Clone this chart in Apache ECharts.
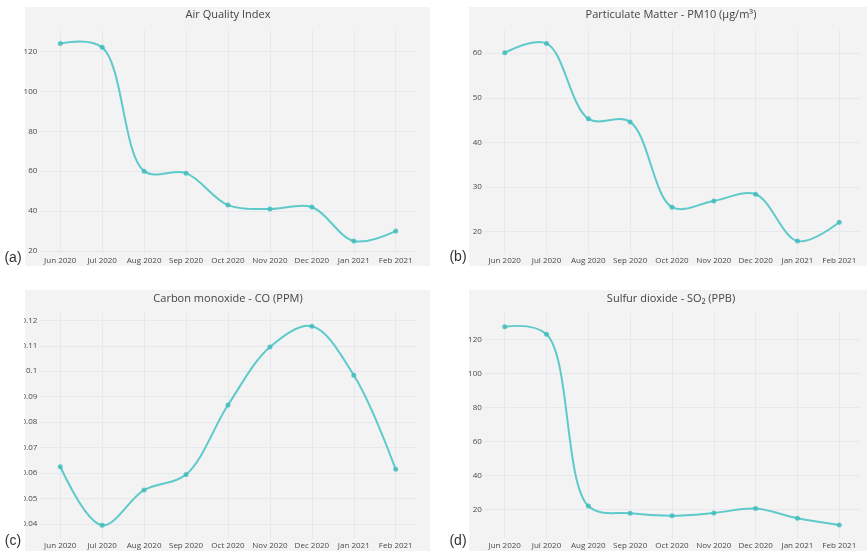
<!DOCTYPE html>
<html>
<head>
<meta charset="utf-8">
<script src="https://cdn.jsdelivr.net/npm/echarts@6/dist/echarts.min.js"></script>
<style>
  html, body { margin: 0; padding: 0; background: #ffffff; }
  #chart { width: 867px; height: 551px; }
</style>
</head>
<body>
<div id="chart"></div>
<script>
// ---- data ----
const months = ['Jun 2020', 'Jul 2020', 'Aug 2020', 'Sep 2020', 'Oct 2020', 'Nov 2020', 'Dec 2020', 'Jan 2021', 'Feb 2021'];
const aqi  = [124, 122, 60, 59, 43, 41, 42, 25, 30];
const pm10 = [60.1, 62.2, 45.3, 44.6, 25.5, 26.9, 28.4, 17.9, 22.1];
const co   = [0.0624, 0.0394, 0.0533, 0.0594, 0.0867, 0.1095, 0.1177, 0.0984, 0.0614];
const so2  = [127.4, 122.9, 21.9, 17.6, 16.2, 17.8, 20.4, 14.7, 10.8];
const titles = ['Air Quality Index', 'Particulate Matter - PM10 (μg/m³)', 'Carbon monoxide - CO (PPM)', 'Sulfur dioxide - SO₂ (PPB)'];
const panelLetters = ['(a)', '(b)', '(c)', '(d)'];

// ---- layout ----
const FONT = '"Open Sans", "DejaVu Sans", sans-serif';
const LINE = '#5ecaca';
const MARK = '#3fbaba';
const BG = '#f3f3f3';
const GRIDC = '#e6e8ed';

const panels = [
  { data: aqi,  grid: { left: 39.3,  top: 30,    width: 377.4, height: 224 },   ymin: 18.5,   ymax: 130.7, split: 5, box: [25, 7, 405, 259],  title: [228, 15],  letter: [13, 258] },
  { data: pm10, grid: { left: 483.8, top: 30,    width: 376.4, height: 224 },   ymin: 15.0,   ymax: 65.2,  split: 5, box: [469, 7, 398, 259], title: [671, 15],  letter: [458, 257] },
  { data: co,   grid: { left: 39.3,  top: 312.7, width: 377.4, height: 225.8 }, ymin: 0.0342, ymax: 0.123, split: 8, box: [25, 290, 405, 261], title: [228, 298.5], letter: [13, 541] },
  { data: so2,  grid: { left: 483.8, top: 312.7, width: 376.4, height: 225.8 }, ymin: 2.8,    ymax: 135.6, split: 6, box: [469, 290, 398, 261], title: [671, 298.5], letter: [458, 541] }
];

// Catmull-Rom style spline (same construction as the original plot's "spline" line shape)
function makeTangent(prev, cur, next, s) {
  const d1x = prev[0] - cur[0], d1y = prev[1] - cur[1];
  const d2x = next[0] - cur[0], d2y = next[1] - cur[1];
  const d1a = Math.pow(d1x * d1x + d1y * d1y, 0.25);
  const d2a = Math.pow(d2x * d2x + d2y * d2y, 0.25);
  const numx = (d2a * d2a * d1x - d1a * d1a * d2x) * s;
  const numy = (d2a * d2a * d1y - d1a * d1a * d2y) * s;
  const den1 = 3 * d2a * (d1a + d2a);
  const den2 = 3 * d1a * (d1a + d2a);
  return [
    [cur[0] + (den1 && numx / den1), cur[1] + (den1 && numy / den1)],
    [cur[0] - (den2 && numx / den2), cur[1] - (den2 && numy / den2)]
  ];
}
function splinePath(pts, s) {
  const P = q => q[0].toFixed(2) + ' ' + q[1].toFixed(2);
  const t = [];
  for (let i = 1; i < pts.length - 1; i++) t.push(makeTangent(pts[i - 1], pts[i], pts[i + 1], s));
  let d = 'M' + P(pts[0]) + ' Q' + P(t[0][0]) + ' ' + P(pts[1]);
  for (let i = 2; i < pts.length - 1; i++) d += ' C' + P(t[i - 2][1]) + ' ' + P(t[i - 1][0]) + ' ' + P(pts[i]);
  d += ' Q' + P(t[pts.length - 3][1]) + ' ' + P(pts[pts.length - 1]);
  return d;
}

const grids = [], xAxes = [], yAxes = [], series = [], graphics = [];
panels.forEach((p, i) => {
  grids.push(Object.assign({ containLabel: false, outerBoundsMode: 'none' }, p.grid));
  xAxes.push({
    type: 'value', gridIndex: i, min: -0.5, max: 8.5, splitNumber: 9,
    axisLine: { show: false }, axisTick: { show: false },
    axisLabel: {
      showMinLabel: false, showMaxLabel: false, margin: 3,
      fontSize: 8, fontFamily: FONT, color: '#4a4a4a',
      formatter: v => months[Math.round(v)] || ''
    },
    splitLine: { show: true, showMinLine: false, showMaxLine: false, lineStyle: { color: GRIDC, width: 1 } }
  });
  yAxes.push({
    type: 'value', gridIndex: i, min: p.ymin, max: p.ymax, splitNumber: p.split,
    axisLine: { show: false }, axisTick: { show: false },
    axisLabel: { showMinLabel: false, showMaxLabel: false, margin: 2, fontSize: 8, fontFamily: FONT, color: '#4a4a4a' },
    splitLine: { show: true, showMinLine: false, showMaxLine: false, lineStyle: { color: GRIDC, width: 1 } }
  });
  const pairs = p.data.map((v, k) => [k, v]);
  series.push({
    type: 'custom', xAxisIndex: i, yAxisIndex: i,
    data: pairs, z: 3, silent: true,
    renderItem: (params, api) => {
      if (params.dataIndex !== 0) return null;
      const pts = pairs.map(d => api.coord(d));
      return {
        type: 'path',
        shape: { pathData: splinePath(pts, 1) },
        style: { fill: 'none', stroke: LINE, lineWidth: 2, lineJoin: 'round', lineCap: 'round' }
      };
    }
  });
  series.push({
    type: 'scatter', xAxisIndex: i, yAxisIndex: i,
    data: pairs, symbol: 'circle', symbolSize: 5,
    itemStyle: { color: MARK }, z: 4
  });
  graphics.push({
    type: 'rect', z: -100, silent: true,
    shape: { x: p.box[0], y: p.box[1], width: p.box[2], height: p.box[3] },
    style: { fill: BG }
  });
  graphics.push({
    type: 'text', z: 200, silent: true, x: p.title[0], y: p.title[1],
    style: { text: titles[i], fontSize: 11, fontFamily: FONT, fill: '#444', align: 'center', verticalAlign: 'middle' }
  });
  graphics.push({
    type: 'text', z: 200, silent: true, x: p.letter[0], y: p.letter[1],
    style: { text: panelLetters[i], fontSize: 14, fontFamily: '"Liberation Sans", Arial, sans-serif', fill: '#333', align: 'center', verticalAlign: 'middle' }
  });
});
// white margin that clips the left of panel (c)'s tick labels, as in the reference
graphics.push({
  type: 'rect', z: 150, silent: true,
  shape: { x: 0, y: 300, width: 24, height: 232 },
  style: { fill: '#ffffff' }
});

const chart = echarts.init(document.getElementById('chart'), null, { renderer: 'canvas' });
chart.setOption({
  animation: false,
  backgroundColor: '#ffffff',
  grid: grids,
  xAxis: xAxes,
  yAxis: yAxes,
  series: series,
  graphic: { elements: graphics }
});
</script>
</body>
</html>
